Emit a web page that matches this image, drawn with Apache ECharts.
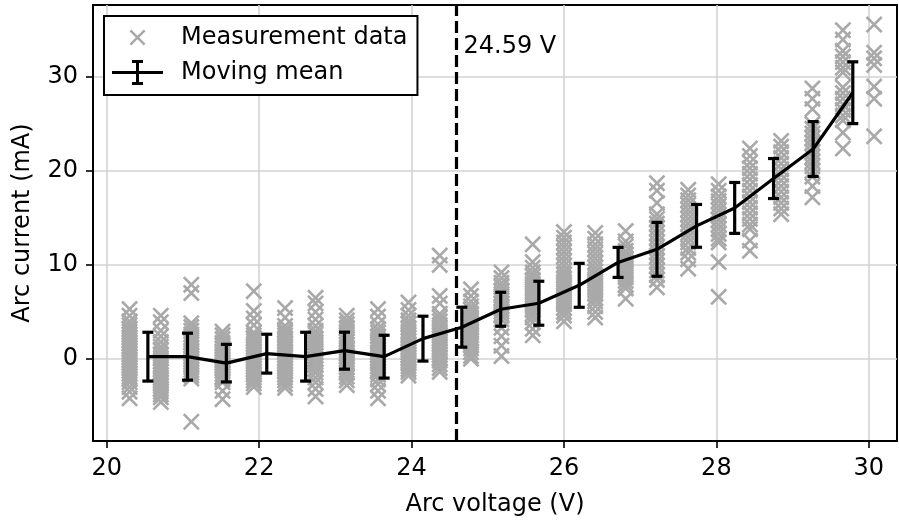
<!DOCTYPE html>
<html>
<head>
<meta charset="utf-8">
<script src="https://cdn.jsdelivr.net/npm/echarts@6/dist/echarts.min.js"></script>
<style>
html, body { margin: 0; padding: 0; background: #fff; }
#chart { width: 899px; height: 522px; }
</style>
</head>
<body>
<div id="chart"></div>
<script>
// measurement columns (arc voltage, V) and the currents measured at each (mA)
var columnVoltage = [20.30, 20.71, 21.11, 21.52, 21.93, 22.34, 22.74, 23.15, 23.56, 23.96,
    24.37, 24.78, 25.18, 25.59, 26.00, 26.41, 26.81, 27.22, 27.63, 28.03,
    28.44, 28.85, 29.26, 29.66, 30.07];
var columnCurrent = [
    [5.3, 4.6, 4.0, 3.6, 3.2, 2.9, 2.6, 2.3, 2.0, 1.7, 1.4, 1.1, 0.8, 0.5, 0.2, -0.1, -0.4, -0.7, -1.0, -1.3, -1.6, -1.9, -2.2, -2.5, -3.0, -3.5, -4.2],
    [4.6, 3.9, 3.0, 2.4, 1.8, 1.3, 0.9, 0.5, 0.1, -0.3, -0.7, -1.1, -1.4, -1.7, -2.0, -2.3, -2.6, -2.9, -3.2, -3.5, -3.8, -4.1, -4.6],
    [7.9, 7.0, 3.8, 3.4, 3.0, 2.6, 2.2, 1.8, 1.5, 1.2, 0.9, 0.6, 0.3, 0.0, -0.3, -0.6, -0.9, -1.2, -1.5, -1.8, -2.1, -6.7],
    [2.9, 2.5, 2.1, 1.7, 1.4, 1.1, 0.8, 0.5, 0.2, -0.1, -0.4, -0.7, -1.0, -1.3, -1.6, -1.9, -2.2, -2.5, -3.4, -4.3],
    [7.2, 5.1, 4.3, 3.6, 2.8, 2.5, 2.2, 1.9, 1.6, 1.3, 1.0, 0.7, 0.4, 0.1, -0.2, -0.5, -0.8, -1.1, -1.4, -1.7, -2.0, -2.3, -2.6, -3.0],
    [5.4, 4.4, 3.5, 3.1, 2.8, 2.5, 2.2, 1.9, 1.6, 1.3, 1.0, 0.7, 0.4, 0.1, -0.2, -0.5, -0.8, -1.1, -1.4, -1.7, -2.0, -2.3, -2.7, -3.1],
    [6.5, 5.9, 5.0, 4.2, 3.5, 3.0, 2.6, 2.2, 1.8, 1.4, 1.0, 0.6, 0.3, 0.0, -0.3, -0.7, -1.1, -1.5, -2.0, -2.5, -3.2, -4.0],
    [4.6, 4.1, 3.7, 3.3, 2.9, 2.5, 2.1, 1.8, 1.5, 1.2, 0.9, 0.6, 0.3, 0.0, -0.3, -0.6, -0.9, -1.2, -1.5, -1.9, -2.3, -2.8],
    [5.3, 4.5, 3.7, 3.2, 2.8, 2.4, 2.0, 1.6, 1.3, 1.0, 0.7, 0.4, 0.1, -0.2, -0.5, -0.8, -1.1, -1.4, -1.7, -2.2, -2.7, -3.4, -4.2],
    [6.0, 5.2, 4.6, 4.1, 3.7, 3.3, 2.9, 2.5, 2.2, 1.9, 1.6, 1.3, 1.0, 0.7, 0.4, 0.1, -0.2, -0.5, -0.8, -1.1, -1.4, -1.8],
    [11.0, 10.0, 6.7, 5.9, 4.8, 4.4, 4.0, 3.6, 3.2, 2.8, 2.5, 2.2, 1.9, 1.6, 1.3, 1.0, 0.7, 0.4, 0.1, -0.2, -0.6, -1.0, -1.4],
    [7.4, 6.7, 6.1, 5.6, 5.2, 4.8, 4.4, 4.0, 3.7, 3.4, 3.1, 2.8, 2.5, 2.2, 1.9, 1.5, 1.1, 0.7, 0.3, 0.0],
    [9.2, 8.6, 8.1, 7.7, 7.3, 6.9, 6.5, 6.2, 5.9, 5.6, 5.3, 5.0, 4.6, 4.2, 3.3, 2.4, 1.4, 0.3],
    [12.2, 10.3, 9.7, 9.2, 8.8, 8.4, 8.0, 7.6, 7.2, 6.8, 6.4, 6.0, 5.6, 5.2, 4.8, 4.4, 3.9, 3.2, 2.5],
    [13.5, 12.9, 12.4, 11.9, 11.4, 10.9, 10.4, 9.9, 9.4, 9.0, 8.6, 8.2, 7.8, 7.4, 7.0, 6.6, 6.2, 5.8, 5.4, 5.0, 4.6, 4.0],
    [13.4, 12.8, 12.2, 11.7, 11.2, 10.7, 10.2, 9.7, 9.3, 8.9, 8.5, 8.1, 7.7, 7.3, 6.9, 6.5, 6.1, 5.6, 5.0, 4.4],
    [13.6, 12.5, 12.0, 11.5, 11.1, 10.7, 10.3, 9.9, 9.5, 9.1, 8.7, 8.3, 7.9, 7.5, 6.4],
    [18.7, 17.9, 16.6, 15.4, 14.9, 14.4, 13.9, 13.4, 12.9, 12.4, 11.9, 11.4, 10.9, 10.4, 9.9, 9.4, 8.9, 8.4, 7.6],
    [18.0, 17.4, 16.9, 16.4, 15.9, 15.4, 14.9, 14.4, 13.9, 13.4, 12.9, 12.4, 11.8, 11.3, 10.6, 9.6],
    [18.6, 17.9, 17.3, 16.8, 16.3, 15.8, 15.3, 14.8, 14.3, 13.8, 13.3, 12.8, 12.4, 10.3, 6.6],
    [22.4, 21.6, 20.9, 20.3, 19.7, 19.1, 18.5, 17.9, 17.3, 16.7, 16.1, 15.5, 14.9, 14.3, 13.8, 12.6, 11.5],
    [23.2, 22.6, 22.0, 21.4, 20.8, 20.2, 19.6, 19.0, 18.4, 17.8, 17.2, 16.6, 16.0, 15.4],
    [28.8, 27.7, 26.6, 25.0, 24.5, 24.0, 23.5, 23.0, 22.5, 22.0, 21.5, 21.0, 20.5, 20.0, 19.4, 18.4, 17.2],
    [35.0, 34.0, 32.8, 32.2, 31.6, 31.0, 30.5, 28.9, 28.3, 27.7, 27.1, 26.5, 25.9, 25.4, 24.1, 22.4],
    [35.6, 32.6, 32.0, 31.3, 29.0, 27.7, 23.7]
];

// moving mean with its spread
var meanVoltage = [20.54, 21.06, 21.57, 22.10, 22.61, 23.12, 23.64, 24.15, 24.66, 25.17,
    25.67, 26.20, 26.71, 27.22, 27.74, 28.24, 28.75, 29.27, 29.79];
var meanCurrent = [0.23, 0.23, -0.46, 0.55, 0.23, 0.87, 0.23, 2.15, 3.37, 5.28,
    5.92, 7.83, 10.27, 11.66, 14.16, 16.07, 19.2, 22.34, 28.34];
var meanError = [2.6, 2.5, 2.0, 2.07, 2.6, 1.97, 2.28, 2.39, 2.13, 1.81,
    2.34, 2.34, 1.6, 2.87, 2.28, 2.71, 2.13, 2.92, 3.29];

var xTicks = [20, 22, 24, 26, 28, 30];
var yTicks = [0, 10, 20, 30];
var thresholdVoltage = 24.59;

var FONT = 'DejaVu Sans';
var FS = 24;
var GRAY = '#a9a9a9';

// "x" marker as a filled outline so the legend icon matches
var crossPath = 'path://M0,11L11,0L50,39L89,0L100,11L61,50L100,89L89,100L50,61L11,100L0,89L39,50Z';
var crossIcon = 'path://M0,0L0,0ZM51,25L51,25Z' +
    'M17.5,6.26L19.26,4.5L25.5,10.74L31.74,4.5L33.5,6.26L27.26,12.5L33.5,18.74L31.74,20.5L25.5,14.26L19.26,20.5L17.5,18.74L23.74,12.5Z';
var errorIcon = 'path://M0,11H51V14H0Z M24,0H27V25H24Z M20,0H31V3H20Z M20,22H31V25H20Z';

var scatterData = [];
columnVoltage.forEach(function (v, i) {
    columnCurrent[i].forEach(function (c) { scatterData.push([v, c]); });
});
var meanData = meanVoltage.map(function (v, i) { return [v, meanCurrent[i]]; });
var errData = meanVoltage.map(function (v, i) { return [v, meanCurrent[i], meanError[i]]; });

var chart = echarts.init(document.getElementById('chart'));

var option = {
    animation: false,
    textStyle: { fontFamily: FONT },
    grid: {
        left: 93, right: 2, top: 5, bottom: 80,
        show: true, borderColor: '#000', borderWidth: 2, backgroundColor: 'transparent'
    },
    legend: {
        orient: 'vertical',
        left: 104, top: 16,
        padding: [9, 10, 10, 8],
        itemWidth: 51, itemHeight: 25, itemGap: 10,
        borderColor: '#000', borderWidth: 2, borderRadius: 0,
        backgroundColor: '#fff',
        selectedMode: false,
        textStyle: { fontSize: FS, color: '#000', fontFamily: FONT, padding: [0, 0, 0, 13] },
        data: [
            { name: 'Measurement data', icon: crossIcon },
            { name: 'Moving mean', icon: errorIcon }
        ]
    },
    xAxis: {
        type: 'value',
        min: 19.82, max: 30.37,
        name: 'Arc voltage (V)', nameLocation: 'middle', nameGap: 52,
        nameTextStyle: { fontSize: FS, color: '#000', fontFamily: FONT },
        axisLine: { show: true, onZero: false, lineStyle: { color: '#000', width: 2 } },
        axisTick: { show: true, length: 7, customValues: xTicks, lineStyle: { color: '#000', width: 1.6 } },
        axisLabel: { customValues: xTicks, fontSize: FS, color: '#000', fontFamily: FONT, margin: 16 },
        splitLine: { show: true, lineStyle: { color: '#d3d3d3', width: 1.6 } }
    },
    yAxis: {
        type: 'value',
        min: -8.75, max: 37.68,
        name: 'Arc current (mA)', nameLocation: 'middle', nameGap: 58, nameRotate: 90,
        nameTextStyle: { fontSize: FS, color: '#000', fontFamily: FONT },
        axisLine: { show: true, onZero: false, lineStyle: { color: '#000', width: 2 } },
        axisTick: { show: true, length: 7, customValues: yTicks, lineStyle: { color: '#000', width: 1.6 } },
        axisLabel: { customValues: yTicks, fontSize: FS, color: '#000', fontFamily: FONT, margin: 15 },
        splitLine: { show: true, lineStyle: { color: '#d3d3d3', width: 1.6 } }
    },
    series: [
        {
            name: 'Measurement data',
            type: 'scatter',
            symbol: crossPath,
            symbolSize: 17,
            itemStyle: { color: GRAY, opacity: 1 },
            data: scatterData,
            z: 2
        },
        {
            name: 'Moving mean',
            type: 'line',
            showSymbol: false,
            symbol: 'none',
            lineStyle: { color: '#000', width: 3.2 },
            itemStyle: { color: '#000' },
            data: meanData,
            z: 5,
            markLine: {
                silent: true,
                symbol: 'none',
                label: { show: false },
                lineStyle: { color: '#000', width: 3.2, type: [12, 5] },
                data: [{ xAxis: thresholdVoltage }]
            }
        },
        {
            name: 'error',
            type: 'custom',
            z: 6,
            data: errData,
            encode: { x: 0, y: 1 },
            renderItem: function (params, api) {
                var x = api.value(0), y = api.value(1), e = api.value(2);
                var top = api.coord([x, y + e]);
                var bot = api.coord([x, y - e]);
                var cap = 5.5;
                var st = { stroke: '#000', lineWidth: 3.2 };
                return {
                    type: 'group',
                    children: [
                        { type: 'line', shape: { x1: top[0], y1: top[1], x2: bot[0], y2: bot[1] }, style: st },
                        { type: 'line', shape: { x1: top[0] - cap, y1: top[1], x2: top[0] + cap, y2: top[1] }, style: st },
                        { type: 'line', shape: { x1: bot[0] - cap, y1: bot[1], x2: bot[0] + cap, y2: bot[1] }, style: st }
                    ]
                };
            }
        }
    ]
};
chart.setOption(option);

// label next to the threshold line
var p = chart.convertToPixel({ gridIndex: 0 }, [thresholdVoltage, 33.2]);
chart.setOption({
    graphic: [{
        type: 'text',
        z: 10,
        style: {
            text: thresholdVoltage.toFixed(2) + ' V',
            x: p[0] + 7, y: p[1],
            verticalAlign: 'middle',
            font: FS + 'px "DejaVu Sans"',
            fill: '#000'
        }
    }]
});
</script>
</body>
</html>
